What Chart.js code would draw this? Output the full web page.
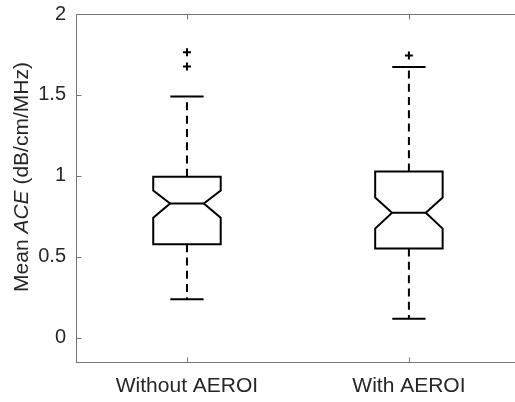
<!DOCTYPE html>
<html>
<head>
<meta charset="utf-8">
<script src="https://cdn.jsdelivr.net/npm/chart.js@4.4.1/dist/chart.umd.min.js"></script>
<style>
  html, body { margin: 0; padding: 0; background: #fff; overflow: hidden; }
  #wrap { width: 515px; height: 402px; }
</style>
</head>
<body>
<div id="wrap"><canvas id="boxChart"></canvas></div>
<script>
// groups on the x axis
const groups = ['Without AEROI', 'With AEROI'];
const positions = [1, 2];

// box statistics
const q1 = [0.578, 0.551];
const medians = [0.829, 0.772];
const q3 = [0.994, 1.027];
const notchLow = [0.741, 0.674];
const notchHigh = [0.909, 0.866];
const whiskerLow = [0.237, 0.117];
const whiskerHigh = [1.490, 1.673];
const outliers = [[1.764, 1.675], [1.743]];

// y axis ticks
const yTicks = [0, 0.5, 1, 1.5, 2];

// box shape
const boxHalf = 0.152;
const notchHalf = 0.076;
const capHalf = 0.075;

const textColor = '#262626';
const axisColor = '#767676';
const lineColor = '#000000';
const fontFamily = '"Liberation Sans", Arial, Helvetica, sans-serif';

const datasets = [];
positions.forEach((c, i) => {
    // notched box outline
    datasets.push({
        data: [
            {x: c - boxHalf, y: q1[i]},
            {x: c - boxHalf, y: notchLow[i]},
            {x: c - notchHalf, y: medians[i]},
            {x: c - boxHalf, y: notchHigh[i]},
            {x: c - boxHalf, y: q3[i]},
            {x: c + boxHalf, y: q3[i]},
            {x: c + boxHalf, y: notchHigh[i]},
            {x: c + notchHalf, y: medians[i]},
            {x: c + boxHalf, y: notchLow[i]},
            {x: c + boxHalf, y: q1[i]},
            {x: c - boxHalf, y: q1[i]}
        ],
        showLine: true, borderColor: lineColor, borderWidth: 2, pointRadius: 0,
        borderJoinStyle: 'miter', borderCapStyle: 'square'
    });
    // median
    datasets.push({
        data: [{x: c - notchHalf, y: medians[i]}, {x: c + notchHalf, y: medians[i]}],
        showLine: true, borderColor: lineColor, borderWidth: 2, pointRadius: 0
    });
    // whiskers (dashed, starting at the box)
    datasets.push({
        data: [{x: c, y: q3[i]}, {x: c, y: whiskerHigh[i]}],
        showLine: true, borderColor: lineColor, borderWidth: 2, pointRadius: 0,
        borderDash: [8, 5.3]
    });
    datasets.push({
        data: [{x: c, y: q1[i]}, {x: c, y: whiskerLow[i]}],
        showLine: true, borderColor: lineColor, borderWidth: 2, pointRadius: 0,
        borderDash: [8, 5.3]
    });
    // whisker caps
    datasets.push({
        data: [{x: c - capHalf, y: whiskerHigh[i]}, {x: c + capHalf, y: whiskerHigh[i]}],
        showLine: true, borderColor: lineColor, borderWidth: 2, pointRadius: 0
    });
    datasets.push({
        data: [{x: c - capHalf, y: whiskerLow[i]}, {x: c + capHalf, y: whiskerLow[i]}],
        showLine: true, borderColor: lineColor, borderWidth: 2, pointRadius: 0
    });
    // outliers
    datasets.push({
        data: outliers[i].map(v => ({x: c, y: v})),
        showLine: false, pointStyle: 'cross', pointRadius: 4,
        borderColor: lineColor, borderWidth: 2
    });
});

// top edge, inward ticks and the y axis title with italic ACE
const frame = {
    id: 'frame',
    afterDraw(chart) {
        const {ctx, chartArea, scales} = chart;
        const xs = scales.x, ys = scales.y;
        const top = Math.round(chartArea.top) + 0.5;
        const bottom = Math.round(chartArea.bottom) + 0.5;
        const left = Math.round(chartArea.left) + 0.5;
        ctx.save();
        ctx.strokeStyle = axisColor;
        ctx.lineWidth = 1;
        ctx.beginPath();
        ctx.moveTo(left, top);
        ctx.lineTo(chartArea.right, top);
        yTicks.forEach(v => {
            const y = Math.round(ys.getPixelForValue(v)) + 0.5;
            ctx.moveTo(left, y);
            ctx.lineTo(left + 5, y);
        });
        positions.forEach(v => {
            const x = Math.round(xs.getPixelForValue(v)) + 0.5;
            ctx.moveTo(x, bottom);
            ctx.lineTo(x, bottom - 5);
            ctx.moveTo(x, top);
            ctx.lineTo(x, top + 5);
        });
        ctx.stroke();

        // y title
        const parts = [['Mean ', 'normal'], ['ACE', 'italic'], [' (dB/cm/MHz)', 'normal']];
        let total = 0;
        parts.forEach(p => {
            ctx.font = p[1] + ' 21px ' + fontFamily;
            total += ctx.measureText(p[0]).width;
        });
        ctx.translate(27.5, 177 + total / 2);
        ctx.rotate(-Math.PI / 2);
        ctx.fillStyle = textColor;
        ctx.textBaseline = 'alphabetic';
        let pos = 0;
        parts.forEach(p => {
            ctx.font = p[1] + ' 21px ' + fontFamily;
            ctx.fillText(p[0], pos, 0);
            pos += ctx.measureText(p[0]).width;
        });
        ctx.restore();
    }
};

new Chart(document.getElementById('boxChart'), {
    type: 'scatter',
    data: { datasets: datasets },
    options: {
        responsive: true,
        maintainAspectRatio: false,
        animation: false,
        layout: { autoPadding: false, padding: { top: 14, left: 0, right: 0, bottom: 0 } },
        plugins: { legend: { display: false }, tooltip: { enabled: false } },
        scales: {
            x: {
                type: 'linear',
                min: 0.5,
                max: 2.478,
                grid: { display: false, drawTicks: false },
                border: { display: true, color: axisColor, width: 1 },
                afterBuildTicks: axis => { axis.ticks = positions.map(v => ({ value: v })); },
                afterFit: scale => { scale.height = 40; scale.paddingLeft = 0; scale.paddingRight = 0; },
                ticks: {
                    padding: 12,
                    color: textColor,
                    font: { family: fontFamily, size: 21 },
                    maxRotation: 0,
                    callback: v => groups[positions.indexOf(v)]
                }
            },
            y: {
                min: -0.15,
                max: 2,
                grid: { display: false, drawTicks: false },
                border: { display: true, color: axisColor, width: 1 },
                afterBuildTicks: axis => { axis.ticks = yTicks.map(v => ({ value: v })); },
                afterFit: scale => { scale.width = 76; scale.paddingTop = 0; scale.paddingBottom = 0; },
                ticks: {
                    padding: 10,
                    color: textColor,
                    font: { family: fontFamily, size: 20 },
                    callback: v => String(v)
                }
            }
        }
    },
    plugins: [frame]
});
</script>
</body>
</html>
